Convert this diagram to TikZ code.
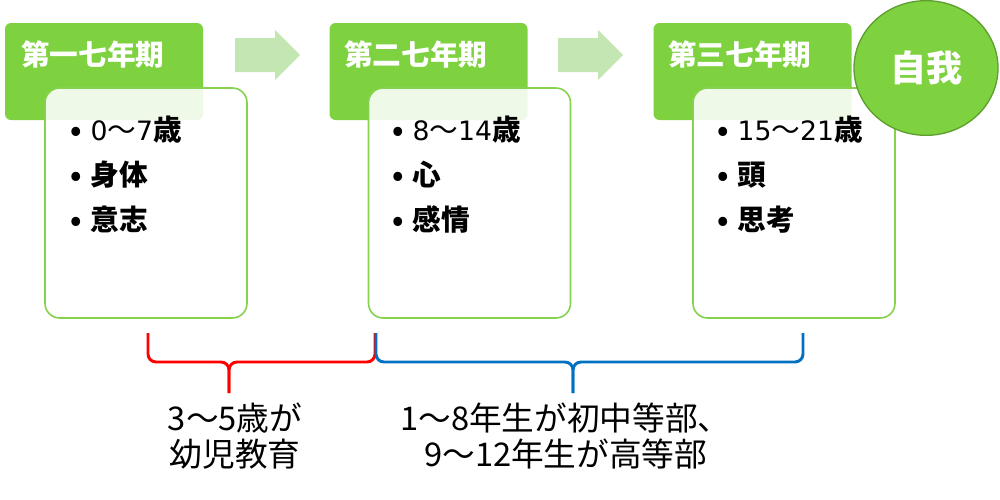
\documentclass[tikz,border=0pt]{standalone}
\usepackage{fontspec}
\setmainfont{Noto Sans CJK JP}
\newfontfamily\digits{DejaVu Sans}
\usetikzlibrary{shapes.geometric}

\definecolor{hdr}{HTML}{7ED13F}
\definecolor{arw}{HTML}{C4E6B2}
\definecolor{brdr}{HTML}{86D24E}
\definecolor{egoline}{HTML}{5F9E30}
\definecolor{bred}{HTML}{FF0000}
\definecolor{bblue}{HTML}{0070C0}

\tikzset{
  hdrbox/.style={fill=hdr, draw=none, rounded corners=4.5pt,
    minimum width=148.5pt, minimum height=72.75pt, inner sep=0pt},
  hdrtext/.style={text=white, font=\fontsize{21.5}{24}\selectfont\bfseries,
    anchor=west, inner sep=0pt},
  bodybox/.style={fill=white, fill opacity=0.88, draw=brdr, draw opacity=1,
    line width=1.2pt, rounded corners=11pt,
    minimum width=151.5pt, minimum height=172.5pt, inner sep=0pt},
  items/.style={anchor=base west, align=left, inner sep=0pt,
    font=\fontsize{21.5}{33.75}\selectfont\bfseries},
  stagearrow/.style={fill=arw, draw=none},
  ego/.style={ellipse, fill=hdr, draw=egoline, line width=1pt,
    minimum width=108pt, minimum height=101pt, inner sep=0pt,
    text=white, font=\fontsize{27}{30}\selectfont\bfseries},
  brace/.style={line width=2.2pt, rounded corners=6pt},
  note/.style={anchor=base, align=center, inner sep=0pt,
    font=\fontsize{24.5}{27}\selectfont},
}
\newcommand{\bul}{\makebox[16pt][l]{\hspace*{1pt}•}}
\newcommand{\num}[1]{{\digits\mdseries\fontsize{20}{33.75}\selectfont #1}}
\newcommand{\agerange}[2]{\num{#1}{\mdseries ～}\num{#2}}

\begin{document}
\begin{tikzpicture}[x=0.75pt,y=-0.75pt]
\useasboundingbox (0,0) rectangle (1000,500);

% stage headers
\node[hdrbox] (h1) at (104,71.5) {};
\node[hdrbox] (h2) at (428.5,71.5) {};
\node[hdrbox] (h3) at (752.5,71.5) {};

% stage bodies, laid over the headers
\node[bodybox] (b1) at (146,203) {};
\node[bodybox] (b2) at (469.5,203) {};
\node[bodybox] (b3) at (794,203) {};

% header captions
\node[hdrtext] (t1) at (21,55) {第一七年期};
\node[hdrtext] (t2) at (344,55) {第二七年期};
\node[hdrtext] (t3) at (668,55) {第三七年期};

% bullet lists (base anchor sits on the last line)
\node[items] (l1) at (69,230) {\bul\agerange{0}{7}歳\\ \bul 身体\\ \bul 意志};
\node[items] (l2) at (391,230) {\bul\agerange{8}{14}歳\\ \bul 心\\ \bul 感情};
\node[items] (l3) at (716,230) {\bul\agerange{15}{21}歳\\ \bul 頭\\ \bul 思考};

% arrows between stages
\coordinate (a1) at (235,38);
\coordinate (a2) at (558,38);
\fill[stagearrow] (a1) -- ++(40,0) -- ++(0,-8) -- ++(25,25) -- ++(-25,25) -- ++(0,-8) -- ++(-40,0) -- cycle;
\fill[stagearrow] (a2) -- ++(40,0) -- ++(0,-8) -- ++(25,25) -- ++(-25,25) -- ++(0,-8) -- ++(-40,0) -- cycle;

% self
\node[ego] (ego) at (926,68) {自我};

% braces
\coordinate (rL) at (148,333);
\coordinate (rR) at (375,333);
\coordinate (rM) at (229,362);
\coordinate (rT) at (229,393);
\coordinate (bL) at (376,333);
\coordinate (bR) at (803,333);
\coordinate (bM) at (573,362);
\coordinate (bT) at (573,393);
\draw[brace, bred] (rL) |- (rM) -- (rT);
\draw[brace, bred] (rR) |- (rM) -- (rT);
\draw[brace, bblue] (bL) |- (bM) -- (bT);
\draw[brace, bblue] (bR) |- (bM) -- (bT);

% notes under the braces (base anchor sits on the last line)
\node[note] (n1) at (235,466) {3～5歳が\\幼児教育};
\node[note, align=left, anchor=base west] (n2) at (400,466)
  {1～8年生が初中等部、\\\hspace*{18pt}9～12年生が高等部};
\end{tikzpicture}
\end{document}
